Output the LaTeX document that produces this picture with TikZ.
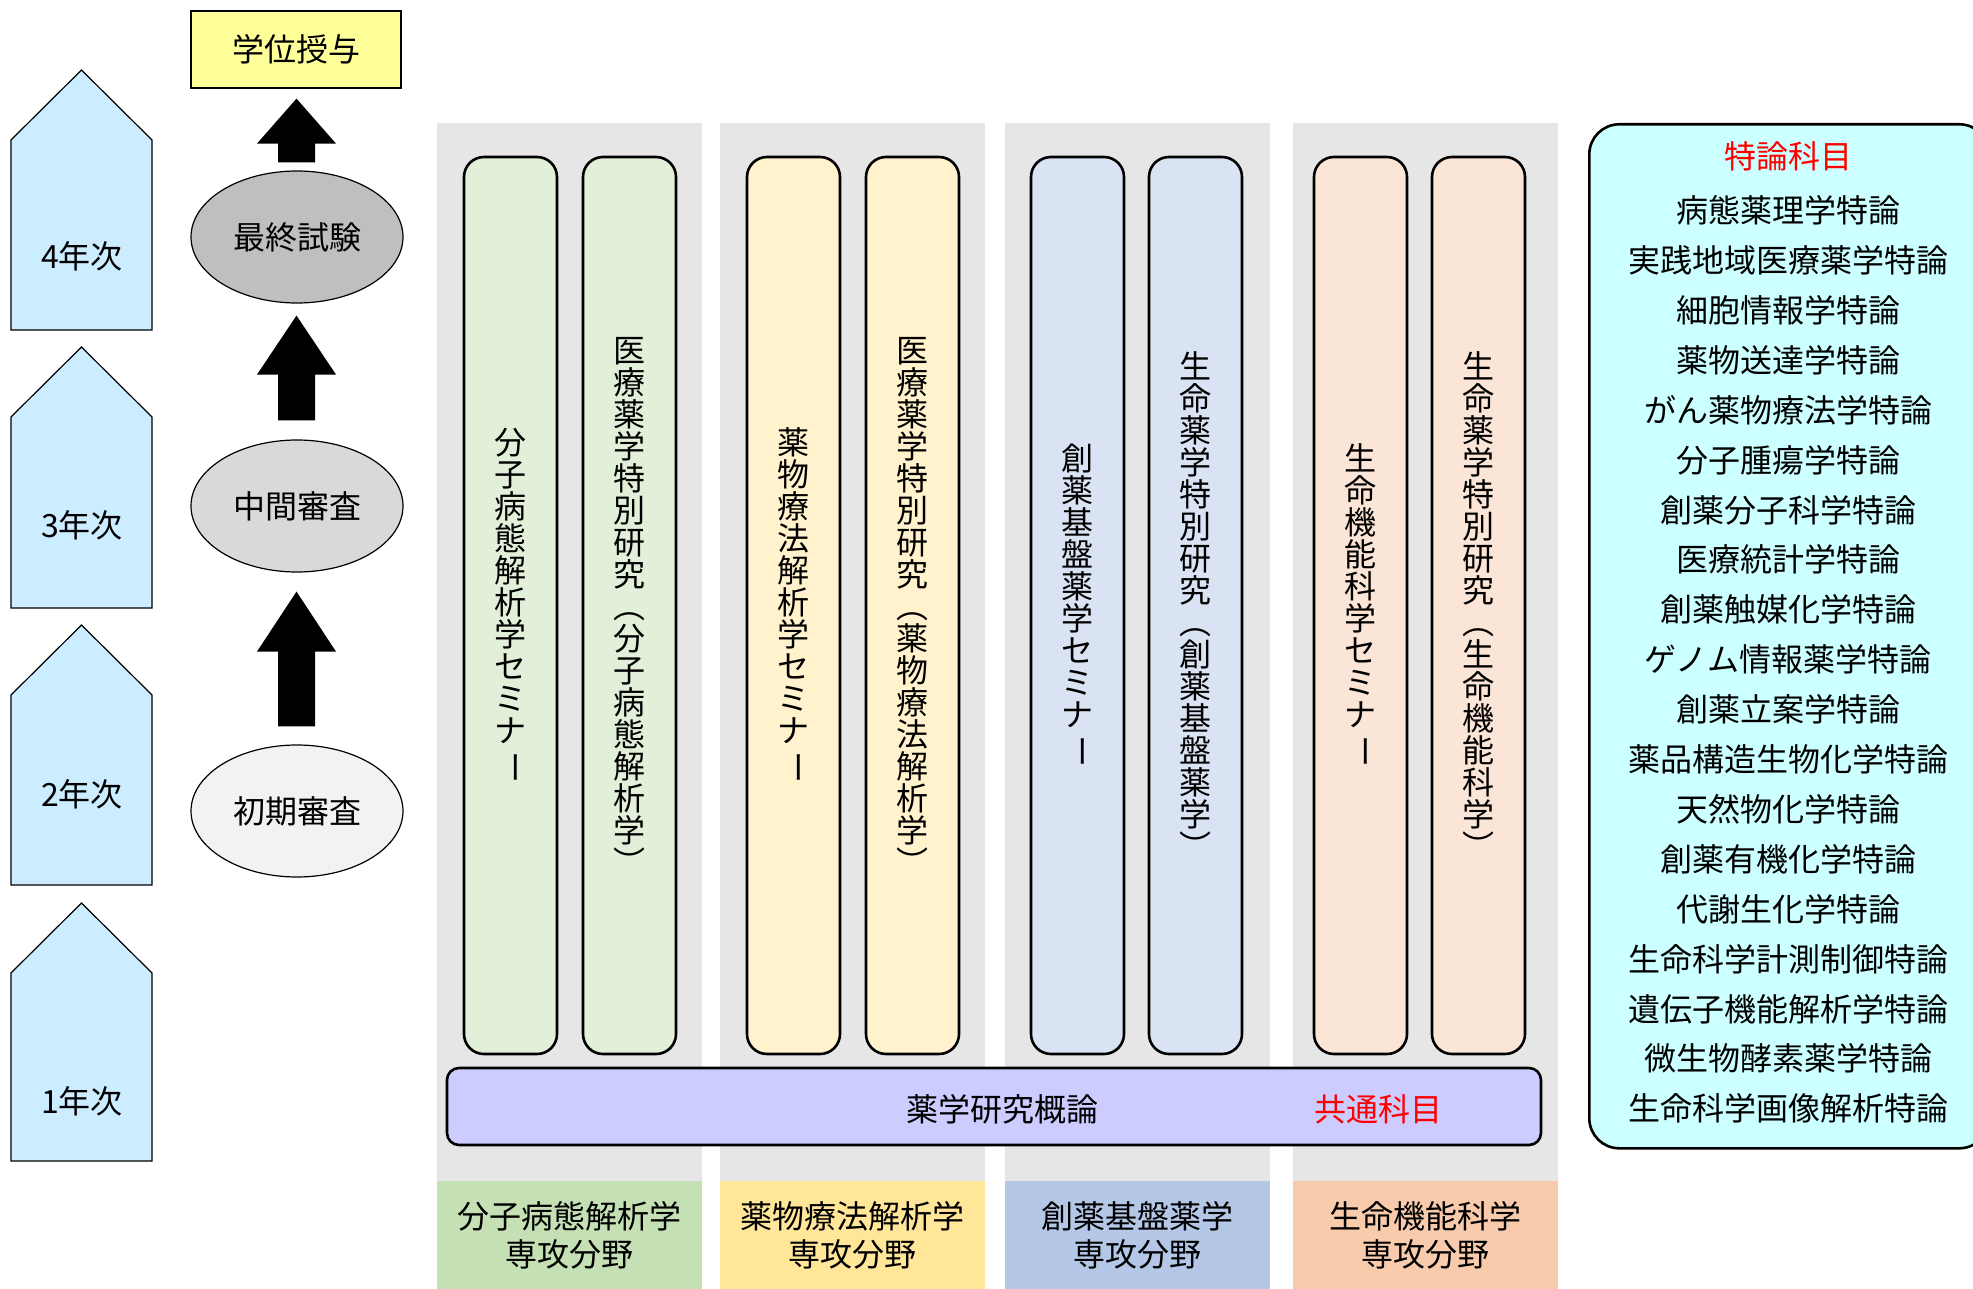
\documentclass[tikz,border=0pt]{standalone}
\usepackage{fontspec}
\usepackage{graphicx}
\setmainfont{Noto Sans CJK JP}
\usetikzlibrary{shapes.geometric,calc}
\definecolor{yearblue}{HTML}{CCECFF}
\definecolor{panelgray}{HTML}{E6E6E6}
\definecolor{gakuiyel}{HTML}{FFFF99}
\definecolor{exA}{HTML}{BFBFBF}
\definecolor{exB}{HTML}{D9D9D9}
\definecolor{exC}{HTML}{F2F2F2}
\definecolor{barG}{HTML}{E2F0D9}
\definecolor{barY}{HTML}{FFF2CC}
\definecolor{barB}{HTML}{DAE3F3}
\definecolor{barO}{HTML}{FBE5D6}
\definecolor{lblG}{HTML}{C5E0B4}
\definecolor{lblY}{HTML}{FFE699}
\definecolor{lblB}{HTML}{B4C7E7}
\definecolor{lblO}{HTML}{F8CBAD}
\definecolor{commonc}{HTML}{CCCCFF}
\definecolor{tokuc}{HTML}{CCFFFF}
\newcommand\vchoon{\rotatebox[origin=c]{-90}{ー}}
\def\vstackA#1{\ifx\relax#1\else\hbox to 1em{\hss#1\hss}\expandafter\vstackA\fi}
\newcommand\vstack[1]{\vbox{\baselineskip=32pt\lineskip=0pt\lineskiplimit=-100pt\vstackA#1\relax}}
\newcommand\blockarrow[3]{%
  \fill let \p1=(#1), \p2=(#2) in
    (\x2,\y2) -- (\x2+39.5pt,\y2-#3) -- (\x2+18.5pt,\y2-#3) -- (\x2+18.5pt,\y1)
    -- (\x2-18.5pt,\y1) -- (\x2-18.5pt,\y2-#3) -- (\x2-39.5pt,\y2-#3) -- cycle;}
\begin{document}
\begin{tikzpicture}[x=1pt,y=-1pt,
  txt/.style={inner sep=0pt, font=\fontsize{32}{38}\selectfont},
  yearbox/.style={draw, line width=1.2pt, fill=yearblue},
  exam/.style={ellipse, draw, line width=1.2pt, minimum width=212pt, minimum height=132pt, inner sep=0pt, font=\fontsize{32}{38}\selectfont},
  panel/.style={fill=panelgray, minimum width=265pt, minimum height=1166pt, anchor=north west, inner sep=0pt},
  fieldlbl/.style={minimum width=265pt, minimum height=108pt, anchor=north west, inner sep=0pt, align=center, font=\fontsize{32}{38}\selectfont},
  course/.style={draw, line width=2.6pt, rounded corners=20pt, minimum width=93pt, minimum height=897pt, inner sep=0pt, font=\fontsize{32}{32}\selectfont}]
\useasboundingbox (0,0) rectangle (1973,1289);
\clip (0,0) rectangle (1973,1289);

% year pentagons
\draw[yearbox] (11,330) -- (11,140) -- (81.5,70) -- (152,140) -- (152,330) -- cycle;
\node[txt] (y4) at (82,256) {4年次};
\draw[yearbox] (11,608) -- (11,417) -- (81.5,347) -- (152,417) -- (152,608) -- cycle;
\node[txt] (y3) at (82,525) {3年次};
\draw[yearbox] (11,885) -- (11,695) -- (81.5,625) -- (152,695) -- (152,885) -- cycle;
\node[txt] (y2) at (82,794) {2年次};
\draw[yearbox] (11,1161) -- (11,973) -- (81.5,903) -- (152,973) -- (152,1161) -- cycle;
\node[txt] (y1) at (82,1101) {1年次};

% degree and exams
\node[draw, line width=1.2pt, fill=gakuiyel, minimum width=210pt, minimum height=77pt, inner sep=0pt, font=\fontsize{32}{38}\selectfont] (gakui) at (296,49.5) {学位授与};
\node[exam, fill=exA] (saishu) at (297,237) {最終試験};
\node[exam, fill=exB] (chukan) at (297,506) {中間審査};
\node[exam, fill=exC] (shoki) at (297,811) {初期審査};

\coordinate (a1b) at ($(saishu.north)+(-0.5,-8)$);
\coordinate (a1t) at ($(gakui.south)+(0.5,10)$);
\coordinate (a2b) at ($(chukan.north)+(-0.5,-19)$);
\coordinate (a2t) at ($(saishu.south)+(-0.5,12)$);
\coordinate (a3b) at ($(shoki.north)+(-0.5,-18)$);
\coordinate (a3t) at ($(chukan.south)+(-0.5,19)$);
\blockarrow{a1b}{a1t}{45pt}
\blockarrow{a2b}{a2t}{59pt}
\blockarrow{a3b}{a3t}{60pt}

% gray panels
\node[panel] (p1) at (437,123) {};
\node[panel] (p2) at (720,123) {};
\node[panel] (p3) at (1005,123) {};
\node[panel] (p4) at (1293,123) {};

% field labels
\node[fieldlbl, fill=lblG] (l1) at (437,1181) {分子病態解析学\\専攻分野};
\node[fieldlbl, fill=lblY] (l2) at (720,1181) {薬物療法解析学\\専攻分野};
\node[fieldlbl, fill=lblB] (l3) at (1005,1181) {創薬基盤薬学\\専攻分野};
\node[fieldlbl, fill=lblO] (l4) at (1293,1181) {生命機能科学\\専攻分野};

% course bars
\node[course, fill=barG] (c1a) at (510.5,605.5) {\vstack{分子病態解析学セミナ\vchoon}};
\node[course, fill=barG] (c1b) at (629.5,605.5) {\vstack{医療薬学特別研究︵分子病態解析学︶}};
\node[course, fill=barY] (c2a) at (793.5,605.5) {\vstack{薬物療法解析学セミナ\vchoon}};
\node[course, fill=barY] (c2b) at (912.5,605.5) {\vstack{医療薬学特別研究︵薬物療法解析学︶}};
\node[course, fill=barB] (c3a) at (1077.5,605.5) {\vstack{創薬基盤薬学セミナ\vchoon}};
\node[course, fill=barB] (c3b) at (1195.5,605.5) {\vstack{生命薬学特別研究︵創薬基盤薬学︶}};
\node[course, fill=barO] (c4a) at (1360.5,605.5) {\vstack{生命機能科学セミナ\vchoon}};
\node[course, fill=barO] (c4b) at (1478.5,605.5) {\vstack{生命薬学特別研究︵生命機能科学︶}};

% common course
\node[draw, line width=2.6pt, rounded corners=12pt, fill=commonc, minimum width=1094pt, minimum height=77pt, inner sep=0pt] (common) at (994,1106.5) {};
\node[txt] (commontxt) at (1002,1109) {薬学研究概論};
\node[txt, text=red] (commonlbl) at (1378,1109) {共通科目};

% special lectures box
\node[draw, line width=2.6pt, rounded corners=30pt, fill=tokuc, minimum width=400pt, minimum height=1024pt, anchor=north west, inner sep=0pt] (toku) at (1588,123) {};
\node[txt, text=red] (tokutitle) at (1788,156) {特論科目};
\node[inner sep=0pt, align=center, font=\fontsize{32}{49.9}\selectfont] (tokulist) at (1788,659.5) {病態薬理学特論\\実践地域医療薬学特論\\細胞情報学特論\\薬物送達学特論\\がん薬物療法学特論\\分子腫瘍学特論\\創薬分子科学特論\\医療統計学特論\\創薬触媒化学特論\\ゲノム情報薬学特論\\創薬立案学特論\\薬品構造生物化学特論\\天然物化学特論\\創薬有機化学特論\\代謝生化学特論\\生命科学計測制御特論\\遺伝子機能解析学特論\\微生物酵素薬学特論\\生命科学画像解析特論};
\end{tikzpicture}
\end{document}
